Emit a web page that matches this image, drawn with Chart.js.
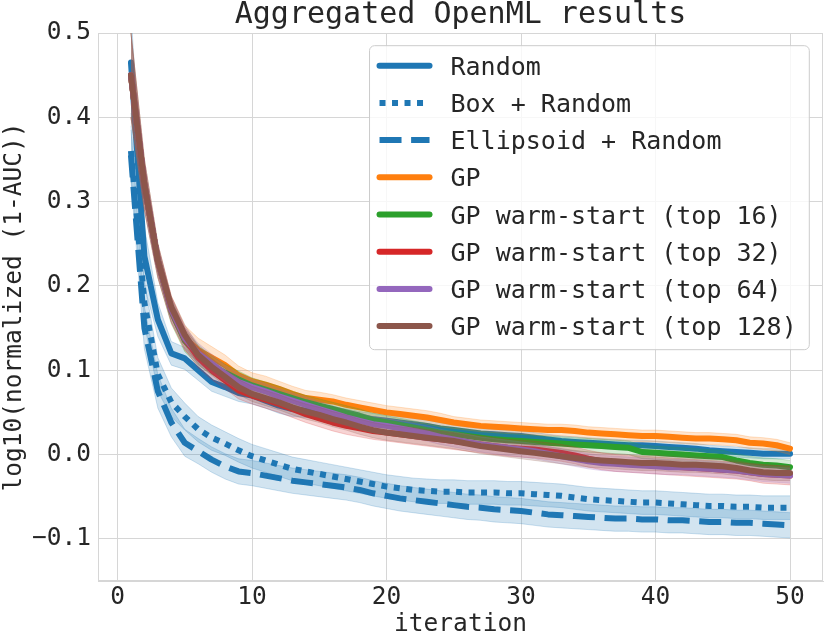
<!DOCTYPE html>
<html lang="en">
<head>
    <meta charset="UTF-8">
    <title>Aggregated OpenML results</title>
    <style>
        body {
            margin: 0;
            padding: 0;
            background-color: #fff;
        }

        #chart-container {
            width: 830px;
            height: 644px;
        }
    </style>
</head>
<body>
    <div id="chart-container">
        <canvas id="chart"></canvas>
    </div>

    <script src="https://cdn.jsdelivr.net/npm/chart.js"></script>
    <script>
        // x values (iteration) and tick labels
        var iterations = [1, 2, 3, 4, 5, 6, 7, 8, 9, 10,
            11, 12, 13, 14, 15, 16, 17, 18, 19, 20,
            21, 22, 23, 24, 25, 26, 27, 28, 29, 30,
            31, 32, 33, 34, 35, 36, 37, 38, 39, 40,
            41, 42, 43, 44, 45, 46, 47, 48, 49, 50];
        var xTicks = [0, 10, 20, 30, 40, 50];
        var yTicks = [-0.1, 0.0, 0.1, 0.2, 0.3, 0.4, 0.5];

        var seriesNames = ['Random', 'Box + Random', 'Ellipsoid + Random', 'GP',
            'GP warm-start (top 16)', 'GP warm-start (top 32)',
            'GP warm-start (top 64)', 'GP warm-start (top 128)'];

        // mean curves
        var random = [0.465, 0.235, 0.160, 0.120, 0.114, 0.100, 0.086, 0.080, 0.073, 0.070,
            0.064, 0.058, 0.054, 0.052, 0.050, 0.048, 0.046, 0.044, 0.042, 0.040,
            0.038, 0.036, 0.034, 0.031, 0.029, 0.027, 0.025, 0.024, 0.023, 0.022,
            0.020, 0.018, 0.016, 0.015, 0.014, 0.013, 0.012, 0.011, 0.011, 0.010,
            0.009, 0.008, 0.007, 0.005, 0.004, 0.003, 0.002, 0.001, 0.001, 0.001];
        var boxRandom = [0.360, 0.180, 0.095, 0.062, 0.045, 0.030, 0.020, 0.013, 0.005, -0.002,
            -0.007, -0.012, -0.017, -0.020, -0.023, -0.026, -0.029, -0.032, -0.035, -0.038,
            -0.040, -0.042, -0.043, -0.044, -0.044, -0.045, -0.045, -0.045, -0.046, -0.046,
            -0.047, -0.048, -0.049, -0.051, -0.053, -0.054, -0.055, -0.056, -0.057, -0.057,
            -0.058, -0.059, -0.060, -0.061, -0.061, -0.062, -0.062, -0.063, -0.063, -0.063];
        var ellipsoidRandom = [0.355, 0.150, 0.075, 0.038, 0.014, 0.004, -0.006, -0.014, -0.020, -0.022,
            -0.025, -0.028, -0.031, -0.033, -0.035, -0.037, -0.039, -0.042, -0.046, -0.049,
            -0.052, -0.054, -0.056, -0.058, -0.060, -0.062, -0.063, -0.065, -0.066, -0.067,
            -0.069, -0.071, -0.072, -0.073, -0.074, -0.075, -0.076, -0.076, -0.077, -0.077,
            -0.078, -0.078, -0.079, -0.080, -0.080, -0.081, -0.081, -0.082, -0.083, -0.084];
        var gp = [0.450, 0.320, 0.230, 0.172, 0.138, 0.124, 0.115, 0.106, 0.094, 0.087,
            0.083, 0.078, 0.072, 0.067, 0.065, 0.063, 0.059, 0.056, 0.053, 0.050,
            0.048, 0.046, 0.044, 0.041, 0.038, 0.036, 0.034, 0.033, 0.032, 0.031,
            0.030, 0.029, 0.029, 0.028, 0.026, 0.025, 0.024, 0.023, 0.022, 0.022,
            0.021, 0.020, 0.019, 0.019, 0.018, 0.017, 0.014, 0.013, 0.011, 0.007];
        var gpTop16 = [0.450, 0.320, 0.230, 0.170, 0.135, 0.118, 0.106, 0.097, 0.089, 0.082,
            0.077, 0.072, 0.067, 0.062, 0.058, 0.054, 0.050, 0.046, 0.041, 0.038,
            0.035, 0.032, 0.029, 0.026, 0.024, 0.022, 0.020, 0.018, 0.017, 0.016,
            0.015, 0.014, 0.013, 0.012, 0.011, 0.010, 0.009, 0.008, 0.003, 0.002,
            0.001, 0.000, -0.001, -0.002, -0.003, -0.007, -0.010, -0.012, -0.013, -0.015];
        var gpTop32 = [0.450, 0.320, 0.230, 0.172, 0.138, 0.115, 0.100, 0.088, 0.076, 0.070,
            0.065, 0.060, 0.054, 0.048, 0.043, 0.038, 0.034, 0.031, 0.028, 0.026,
            0.024, 0.022, 0.020, 0.018, 0.016, 0.014, 0.012, 0.010, 0.008, 0.007,
            0.006, 0.004, 0.002, -0.001, -0.005, -0.008, -0.010, -0.011, -0.012, -0.013,
            -0.014, -0.015, -0.016, -0.017, -0.018, -0.019, -0.021, -0.023, -0.024, -0.025];
        var gpTop64 = [0.450, 0.320, 0.230, 0.172, 0.138, 0.120, 0.108, 0.096, 0.086, 0.080,
            0.075, 0.069, 0.064, 0.059, 0.054, 0.049, 0.044, 0.040, 0.036, 0.034,
            0.031, 0.028, 0.025, 0.021, 0.018, 0.015, 0.012, 0.010, 0.008, 0.006,
            0.004, 0.001, -0.002, -0.005, -0.008, -0.010, -0.011, -0.012, -0.013, -0.014,
            -0.015, -0.015, -0.016, -0.017, -0.018, -0.019, -0.021, -0.023, -0.024, -0.025];
        var gpTop128 = [0.450, 0.320, 0.230, 0.175, 0.142, 0.118, 0.104, 0.092, 0.080, 0.072,
            0.067, 0.062, 0.056, 0.051, 0.047, 0.042, 0.038, 0.033, 0.029, 0.026,
            0.024, 0.022, 0.020, 0.018, 0.016, 0.013, 0.010, 0.008, 0.006, 0.004,
            0.002, 0.000, -0.002, -0.004, -0.006, -0.007, -0.008, -0.009, -0.010, -0.010,
            -0.011, -0.012, -0.012, -0.013, -0.014, -0.016, -0.019, -0.021, -0.022, -0.022];

        // half-width of the shaded band around each curve
        var randomSpread = [0.060, 0.035, 0.020, 0.014, 0.013, 0.012, 0.011, 0.011, 0.010, 0.010,
            0.009, 0.009, 0.009, 0.008, 0.008, 0.008, 0.008, 0.007, 0.007, 0.007,
            0.007, 0.007, 0.007, 0.007, 0.006, 0.006, 0.006, 0.006, 0.006, 0.006,
            0.006, 0.006, 0.006, 0.006, 0.006, 0.006, 0.006, 0.006, 0.006, 0.006,
            0.006, 0.006, 0.006, 0.006, 0.006, 0.006, 0.006, 0.006, 0.006, 0.006];
        var boxSpread = [0.030, 0.025, 0.020, 0.017, 0.016, 0.015, 0.015, 0.014, 0.014, 0.014,
            0.014, 0.014, 0.014, 0.014, 0.014, 0.014, 0.014, 0.014, 0.014, 0.014,
            0.014, 0.014, 0.014, 0.014, 0.014, 0.014, 0.014, 0.014, 0.014, 0.014,
            0.014, 0.014, 0.014, 0.014, 0.014, 0.014, 0.014, 0.014, 0.014, 0.014,
            0.014, 0.014, 0.014, 0.014, 0.014, 0.014, 0.014, 0.014, 0.014, 0.014];
        var ellipsoidSpread = [0.030, 0.025, 0.020, 0.017, 0.016, 0.015, 0.015, 0.015, 0.015, 0.015,
            0.015, 0.015, 0.015, 0.015, 0.015, 0.015, 0.015, 0.015, 0.015, 0.015,
            0.015, 0.015, 0.015, 0.015, 0.015, 0.015, 0.015, 0.015, 0.015, 0.015,
            0.015, 0.015, 0.015, 0.015, 0.015, 0.015, 0.015, 0.015, 0.015, 0.015,
            0.015, 0.015, 0.015, 0.015, 0.015, 0.015, 0.015, 0.015, 0.015, 0.015];
        var gpSpread = [0.050, 0.030, 0.020, 0.016, 0.015, 0.014, 0.013, 0.012, 0.011, 0.010,
            0.010, 0.009, 0.009, 0.009, 0.009, 0.008, 0.008, 0.008, 0.008, 0.008,
            0.008, 0.008, 0.008, 0.008, 0.007, 0.007, 0.007, 0.007, 0.007, 0.007,
            0.007, 0.007, 0.007, 0.007, 0.007, 0.007, 0.007, 0.007, 0.007, 0.007,
            0.007, 0.007, 0.007, 0.007, 0.007, 0.007, 0.007, 0.007, 0.007, 0.007];
        var gpTop16Spread = [0.050, 0.030, 0.020, 0.015, 0.013, 0.012, 0.011, 0.010, 0.010, 0.009,
            0.009, 0.009, 0.008, 0.008, 0.008, 0.008, 0.008, 0.008, 0.008, 0.008,
            0.008, 0.008, 0.008, 0.008, 0.008, 0.008, 0.008, 0.008, 0.008, 0.008,
            0.008, 0.008, 0.008, 0.008, 0.008, 0.008, 0.008, 0.008, 0.008, 0.008,
            0.008, 0.008, 0.008, 0.008, 0.008, 0.008, 0.008, 0.008, 0.008, 0.008];
        var gpTop32Spread = [0.050, 0.030, 0.020, 0.015, 0.013, 0.012, 0.011, 0.010, 0.010, 0.010,
            0.010, 0.010, 0.010, 0.010, 0.010, 0.010, 0.010, 0.010, 0.010, 0.010,
            0.010, 0.010, 0.010, 0.010, 0.010, 0.010, 0.010, 0.010, 0.010, 0.010,
            0.010, 0.010, 0.010, 0.010, 0.010, 0.010, 0.010, 0.010, 0.010, 0.010,
            0.010, 0.010, 0.010, 0.010, 0.010, 0.010, 0.010, 0.011, 0.011, 0.011];
        var gpTop64Spread = [0.050, 0.030, 0.020, 0.015, 0.013, 0.012, 0.011, 0.010, 0.010, 0.009,
            0.009, 0.009, 0.009, 0.009, 0.009, 0.009, 0.009, 0.009, 0.009, 0.009,
            0.009, 0.009, 0.009, 0.009, 0.009, 0.009, 0.009, 0.009, 0.009, 0.009,
            0.009, 0.009, 0.009, 0.009, 0.009, 0.009, 0.009, 0.009, 0.009, 0.009,
            0.009, 0.009, 0.009, 0.009, 0.009, 0.009, 0.009, 0.009, 0.009, 0.009];
        var gpTop128Spread = [0.050, 0.022, 0.016, 0.013, 0.012, 0.011, 0.010, 0.010, 0.009, 0.009,
            0.009, 0.009, 0.009, 0.009, 0.009, 0.009, 0.009, 0.009, 0.009, 0.009,
            0.009, 0.009, 0.009, 0.009, 0.009, 0.009, 0.009, 0.009, 0.009, 0.009,
            0.009, 0.009, 0.009, 0.009, 0.009, 0.009, 0.009, 0.009, 0.009, 0.009,
            0.009, 0.009, 0.009, 0.009, 0.009, 0.009, 0.009, 0.009, 0.009, 0.009];

        var series = [
            { values: random, spread: randomSpread, rgb: '31,119,180', dash: [] },
            { values: boxRandom, spread: boxSpread, rgb: '31,119,180', dash: [6, 6.5] },
            { values: ellipsoidRandom, spread: ellipsoidSpread, rgb: '31,119,180', dash: [22, 9.6] },
            { values: gp, spread: gpSpread, rgb: '255,127,14', dash: [] },
            { values: gpTop16, spread: gpTop16Spread, rgb: '44,160,44', dash: [] },
            { values: gpTop32, spread: gpTop32Spread, rgb: '214,39,40', dash: [] },
            { values: gpTop64, spread: gpTop64Spread, rgb: '148,103,189', dash: [] },
            { values: gpTop128, spread: gpTop128Spread, rgb: '140,86,75', dash: [] }
        ];

        var FONT = '"DejaVu Sans Mono", monospace';
        var TEXT = '#262626';
        var GRID = '#d6d6d6';

        function points(values, spread, sign) {
            return iterations.map(function(it, k) {
                return { x: it, y: values[k] + sign * spread[k] };
            });
        }

        // later series drawn on top, as in the original
        var datasets = [];
        series.forEach(function(s, i) {
            var rank = (series.length - 1 - i) * 3;
            var base = datasets.length;
            datasets.push({
                label: seriesNames[i],
                data: points(s.values, s.spread, 0),
                borderColor: 'rgb(' + s.rgb + ')',
                borderWidth: 6,
                borderDash: s.dash,
                borderCapStyle: s.dash.length ? 'butt' : 'round',
                borderJoinStyle: 'round',
                pointRadius: 0,
                fill: false,
                order: rank
            });
            datasets.push({
                label: '',
                data: points(s.values, s.spread, 1),
                borderColor: 'rgba(' + s.rgb + ',0.22)',
                borderWidth: 1,
                pointRadius: 0,
                fill: false,
                order: rank + 1
            });
            datasets.push({
                label: '',
                data: points(s.values, s.spread, -1),
                borderColor: 'rgba(' + s.rgb + ',0.22)',
                borderWidth: 1,
                backgroundColor: 'rgba(' + s.rgb + ',0.2)',
                pointRadius: 0,
                fill: base + 1,
                order: rank + 2
            });
        });

        // box around the plotting area
        var frame = {
            id: 'frame',
            beforeDatasetsDraw: function(chart) {
                var a = chart.chartArea, ctx = chart.ctx;
                ctx.save();
                ctx.strokeStyle = GRID;
                ctx.lineWidth = 1;
                ctx.strokeRect(a.left + 0.5, a.top + 0.5, a.width - 1, a.height - 1);
                ctx.restore();
            }
        };

        // legend in the upper right corner of the axes
        var legendBox = {
            id: 'legendBox',
            afterDraw: function(chart) {
                var ctx = chart.ctx, a = chart.chartArea;
                ctx.save();
                ctx.font = '25px ' + FONT;
                var textW = 0;
                seriesNames.forEach(function(n) {
                    textW = Math.max(textW, ctx.measureText(n).width);
                });
                var rowH = 37.2, padL = 10, handle = 50, gap = 21, padR = 12.6;
                var w = padL + handle + gap + textW + padR;
                var h = 304;
                var x0 = a.right - 13.7 - w, y0 = a.top + 12.7;

                ctx.beginPath();
                ctx.roundRect(x0, y0, w, h, 5);
                ctx.fillStyle = 'rgba(255,255,255,0.8)';
                ctx.fill();
                ctx.strokeStyle = '#cccccc';
                ctx.lineWidth = 1;
                ctx.stroke();

                series.forEach(function(s, i) {
                    var cy = y0 + 20 + i * rowH;
                    ctx.beginPath();
                    ctx.setLineDash(s.dash);
                    ctx.lineCap = s.dash.length ? 'butt' : 'round';
                    ctx.lineWidth = 6;
                    ctx.strokeStyle = 'rgb(' + s.rgb + ')';
                    ctx.moveTo(x0 + padL, cy);
                    ctx.lineTo(x0 + padL + handle, cy);
                    ctx.stroke();
                    ctx.setLineDash([]);
                    ctx.fillStyle = TEXT;
                    ctx.textBaseline = 'alphabetic';
                    ctx.fillText(seriesNames[i], x0 + padL + handle + gap, cy + 9.1);
                });
                ctx.restore();
            }
        };

        var ctx = document.getElementById('chart').getContext('2d');
        var myChart = new Chart(ctx, {
            type: 'line',
            data: { datasets: datasets },
            options: {
                responsive: true,
                maintainAspectRatio: false,
                animation: false,
                layout: { padding: { top: 0, right: 7, bottom: 0, left: 0 } },
                plugins: {
                    legend: { display: false },
                    tooltip: { enabled: false },
                    title: {
                        display: true,
                        text: 'Aggregated OpenML results',
                        fullSize: false,
                        color: TEXT,
                        font: { family: FONT, size: 30, weight: 'normal', lineHeight: 1 },
                        padding: { top: 0, bottom: 3 }
                    }
                },
                scales: {
                    x: {
                        type: 'linear',
                        min: -1.45,
                        max: 52.45,
                        afterBuildTicks: function(scale) {
                            scale.ticks = xTicks.map(function(v) { return { value: v }; });
                        },
                        afterFit: function(scale) { scale.height = 63; },
                        ticks: {
                            color: TEXT,
                            font: { family: FONT, size: 24.5 },
                            padding: 2,
                            maxRotation: 0
                        },
                        grid: { color: GRID, drawTicks: false },
                        border: { color: GRID },
                        title: {
                            display: true,
                            text: 'iteration',
                            color: TEXT,
                            font: { family: FONT, size: 24.5 },
                            padding: { top: 0, bottom: 5 }
                        }
                    },
                    y: {
                        min: -0.15,
                        max: 0.5,
                        afterBuildTicks: function(scale) {
                            scale.ticks = yTicks.map(function(v) { return { value: v }; });
                        },
                        afterFit: function(scale) { scale.width = 98; },
                        ticks: {
                            color: TEXT,
                            font: { family: FONT, size: 24.5 },
                            padding: 7,
                            callback: function(v) {
                                return v.toFixed(1).replace('-', '\u2212');
                            }
                        },
                        grid: { color: GRID, drawTicks: false },
                        border: { color: GRID },
                        title: {
                            display: true,
                            text: 'log10(normalized (1-AUC))',
                            color: TEXT,
                            font: { family: FONT, size: 24.5 },
                            padding: { top: 0, bottom: 0 }
                        }
                    }
                }
            },
            plugins: [frame, legendBox]
        });
    </script>
</body>
</html>
